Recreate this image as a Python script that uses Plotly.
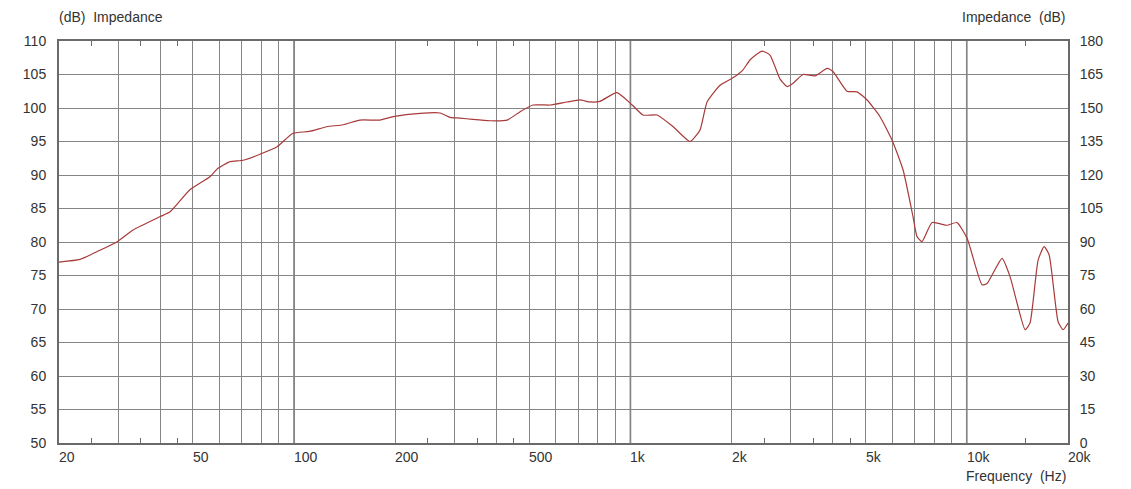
import math
import plotly.graph_objects as go

# Frequency (Hz) and impedance level (dB)
freq_hz = [20, 23.1, 25.9, 29.8, 33.2, 40, 42.8, 49, 56.2, 59.4, 64.5, 70.5, 79.2, 89, 99,
           111, 125, 140, 157, 180, 197, 237, 272, 291, 311, 340, 382, 430, 470, 513,
           577, 648, 708, 758, 812, 912, 1012, 1090, 1200, 1340, 1504, 1610, 1690, 1848,
           2018, 2162, 2270, 2462, 2600, 2786, 2924, 3046, 3260, 3540, 3844, 4006, 4406,
           4720, 5054, 5522, 5998, 6468, 6920, 7114, 7362, 7888, 8732, 9358, 10024, 11108,
           11492, 12736, 13458, 14912, 15420, 16300, 16980, 17574, 18692, 19340, 20000]
level_db = [77.0, 77.4, 78.55, 80.05, 81.8, 83.8, 84.5, 87.8, 89.75, 91.0, 92.0, 92.2, 93.1,
            94.2, 96.2, 96.5, 97.2, 97.5, 98.2, 98.2, 98.7, 99.2, 99.25, 98.6, 98.5, 98.3,
            98.1, 98.2, 99.45, 100.45, 100.45, 100.9, 101.2, 100.9, 101.0, 102.3, 100.45,
            98.95, 98.95, 97.2, 95.0, 96.7, 100.9, 103.4, 104.5, 105.7, 107.2, 108.5, 107.9,
            104.3, 103.2, 103.7, 105.0, 104.8, 105.9, 105.4, 102.5, 102.4, 101.2, 98.7, 95.2,
            90.75, 83.8, 80.8, 80.05, 82.9, 82.5, 82.9, 80.55, 73.6, 73.8, 77.55, 74.8, 66.9,
            67.9, 77.3, 79.3, 78.1, 68.1, 66.9, 67.9]

grid_freqs = [20, 30, 40, 50, 60, 70, 80, 90, 100, 200, 300, 400, 500, 600, 700, 800, 900,
              1000, 2000, 3000, 4000, 5000, 6000, 7000, 8000, 9000, 10000, 20000]
decade_freqs = [100, 1000, 10000]
minor_tick_freqs = [25, 35, 45, 250, 350, 450, 2500, 3500, 4500, 15000]
x_label_freqs = [20, 50, 100, 200, 500, 1000, 2000, 5000, 10000, 20000]
x_label_text = ["20", "50", "100", "200", "500", "1k", "2k", "5k", "10k", "20k"]
left_ticks = [50, 55, 60, 65, 70, 75, 80, 85, 90, 95, 100, 105, 110]
right_ticks = [0, 15, 30, 45, 60, 75, 90, 105, 120, 135, 150, 165, 180]

FONT = "Liberation Sans"
TXT = "#333333"
GRID = "#858585"
FRAME = "#6a6a6a"

fig = go.Figure()
fig.add_trace(go.Scatter(x=freq_hz, y=level_db, mode="lines",
                         line=dict(color="#a83a3a", width=1.2, shape="spline", smoothing=0.5),
                         showlegend=False, hoverinfo="x+y", cliponaxis=True))
# invisible trace to activate right axis
fig.add_trace(go.Scatter(x=[20, 20000], y=[0, 180], yaxis="y2", mode="lines",
                         line=dict(width=0), showlegend=False, hoverinfo="skip"))

for f in decade_freqs:
    fig.add_shape(type="line", xref="x", yref="paper", x0=f, x1=f, y0=0, y1=1,
                  line=dict(color="#707070", width=1.6), layer="between")

xmin, xmax = min(x_label_freqs), max(x_label_freqs)
span = math.log10(xmax) - math.log10(xmin)
for f, t in zip(x_label_freqs, x_label_text):
    fig.add_annotation(x=(math.log10(f) - math.log10(xmin)) / span, xref="paper",
                       y=0, yref="paper",
                       text=t, showarrow=False, xanchor="left", yanchor="top",
                       yshift=-4, xshift=-2, font=dict(family=FONT, size=14, color=TXT))

fig.add_annotation(x=0, xref="paper", y=1, yref="paper", text="(dB)  Impedance",
                   showarrow=False, xanchor="left", yanchor="bottom", yshift=14, xshift=-2,
                   font=dict(family=FONT, size=14, color=TXT))
fig.add_annotation(x=1, xref="paper", y=1, yref="paper", text="Impedance  (dB)",
                   showarrow=False, xanchor="right", yanchor="bottom", yshift=14,
                   font=dict(family=FONT, size=14, color=TXT))
fig.add_annotation(x=1, xref="paper", y=0, yref="paper", text="Frequency  (Hz)",
                   showarrow=False, xanchor="right", yanchor="top", yshift=-23,
                   font=dict(family=FONT, size=14, color=TXT))

# page body has an 8px default margin, so the figure is offset by 8px
fig.update_layout(
    width=1123, height=481,
    margin=dict(l=51, r=63, t=33, b=46, autoexpand=False),
    paper_bgcolor="white", plot_bgcolor="white",
    font=dict(family=FONT, size=14, color=TXT),
    xaxis=dict(type="log", range=[math.log10(xmin), math.log10(xmax)], tickvals=grid_freqs,
               ticktext=[""] * len(grid_freqs), showgrid=True, gridcolor=GRID, gridwidth=1,
               ticks="", showline=True, linecolor=FRAME, linewidth=2, mirror="ticks",
               zeroline=False, automargin=False,
               minor=dict(tickvals=minor_tick_freqs, ticks="inside", ticklen=5,
                          tickcolor=FRAME, tickwidth=1, showgrid=False)),
    yaxis=dict(range=[50, 110], tickvals=left_ticks, showgrid=True, gridcolor=GRID,
               gridwidth=1, ticks="outside", ticklen=8, tickcolor="rgba(0,0,0,0)",
               showline=True, linecolor=FRAME, linewidth=2, mirror=True, zeroline=False,
               automargin=False, tickfont=dict(family=FONT, size=14, color=TXT)),
    yaxis2=dict(range=[0, 180], tickvals=right_ticks, overlaying="y", side="right",
                showgrid=False, ticks="outside", ticklen=8, tickcolor="rgba(0,0,0,0)",
                showline=False, zeroline=False, automargin=False,
                tickfont=dict(family=FONT, size=14, color=TXT)),
)

fig.write_html("out.html")
